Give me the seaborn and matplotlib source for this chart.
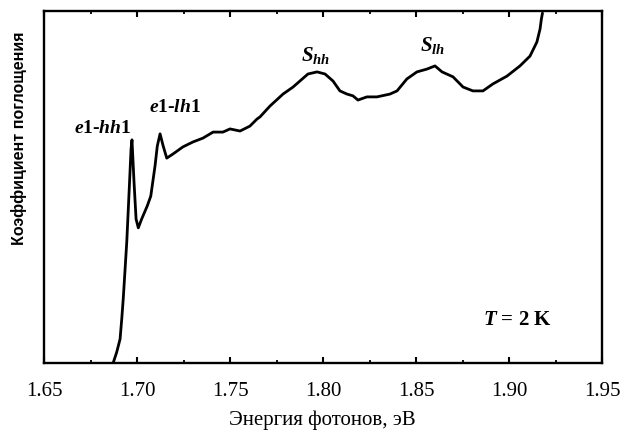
import numpy as np
import pandas as pd
import seaborn as sns
import matplotlib
matplotlib.use("Agg")
import matplotlib.pyplot as plt
from matplotlib.ticker import MultipleLocator

# Absorption spectrum of a quantum-well structure at T = 2 K
energy_ev = [
    1.6873, 1.6891, 1.6909, 1.6918, 1.6926, 1.6945, 1.6959, 1.6968, 1.6973,
    1.6984, 1.6995, 1.7007, 1.7025, 1.7055, 1.7074, 1.7097, 1.7109, 1.7124,
    1.7141, 1.7160, 1.7194, 1.7247, 1.7301, 1.7355, 1.7409, 1.7462, 1.7500,
    1.7554, 1.7607, 1.7645, 1.7661, 1.7715, 1.7785, 1.7839, 1.7919, 1.7968,
    1.8011, 1.8054, 1.8091, 1.8129, 1.8161, 1.8188, 1.8236, 1.8290, 1.8360,
    1.8398, 1.8451, 1.8505, 1.8559, 1.8602, 1.8640, 1.8699, 1.8753, 1.8806,
    1.8860, 1.8914, 1.8989, 1.9059, 1.9113, 1.9150, 1.9167, 1.9174, 1.9180,
]
absorption = [
    0.002, 0.031, 0.068, 0.125, 0.182, 0.344, 0.503, 0.608, 0.634,
    0.514, 0.409, 0.384, 0.409, 0.446, 0.474, 0.560, 0.616, 0.651,
    0.616, 0.582, 0.594, 0.614, 0.628, 0.639, 0.656, 0.656, 0.665,
    0.659, 0.673, 0.693, 0.699, 0.730, 0.764, 0.784, 0.821, 0.827,
    0.821, 0.801, 0.773, 0.764, 0.759, 0.747, 0.756, 0.756, 0.764,
    0.773, 0.807, 0.827, 0.835, 0.844, 0.827, 0.813, 0.784, 0.773,
    0.773, 0.793, 0.815, 0.844, 0.872, 0.912, 0.949, 0.977, 0.994,
]
x_ticks = [1.65, 1.70, 1.75, 1.80, 1.85, 1.90, 1.95]
x_tick_labels = ["1.65", "1.70", "1.75", "1.80", "1.85", "1.90", "1.95"]

df = pd.DataFrame({"E": energy_ev, "alpha": absorption})

sns.set_theme(style="ticks")
plt.rcParams["font.family"] = ["Liberation Serif", "DejaVu Serif"]
plt.rcParams["text.color"] = "black"
plt.rcParams["axes.labelcolor"] = "black"
plt.rcParams["xtick.color"] = "black"
plt.rcParams["mathtext.fontset"] = "custom"
plt.rcParams["mathtext.rm"] = "Liberation Serif:bold"
plt.rcParams["mathtext.it"] = "Liberation Serif:bold:italic"
plt.rcParams["mathtext.bf"] = "Liberation Serif:bold"

fig = plt.figure(figsize=(6.24, 4.31), dpi=100)
ax = fig.add_axes([44 / 624, 1 - 364 / 431, (602 - 44) / 624, (364 - 12) / 431])

sns.lineplot(data=df, x="E", y="alpha", ax=ax, color="black", linewidth=2.0,
             sort=False, estimator=None)

ax.set_xlim(1.65, 1.95)
ax.set_ylim(0, 1.0)
ax.set_xticks(x_ticks)
ax.set_xticklabels(x_tick_labels)
ax.xaxis.set_minor_locator(MultipleLocator(0.025))
ax.set_yticks([])
ax.tick_params(axis="x", which="major", direction="in", length=4, width=1.5,
               top=True, pad=13, labelsize=15, colors="black")
ax.tick_params(axis="x", which="minor", direction="in", length=2, width=1.3,
               top=True)
for s in ax.spines.values():
    s.set_linewidth(1.7)
    s.set_color("black")

ax.set_xlabel("")
ax.set_ylabel("")
fig.text(322 / 624, 1 - 420 / 431, "Энергия фотонов, эВ", ha="center",
         va="center", fontsize=15, color="black", family=["Liberation Serif"])
fig.text(19 / 624, 1 - 138 / 431, "Коэффициент поглощения", ha="center",
         va="center", rotation=90, fontsize=11.5, fontweight="bold",
         color="black", family=["Liberation Sans"])

def label(px, py, s, size):
    fig.text(px / 624, 1 - py / 431, s, ha="center", va="center",
             fontsize=size, fontweight="bold", color="black",
             family=["Liberation Serif"])

label(103, 129, r"$e$1-$hh$1", 14)
label(175, 108, r"$e$1-$lh$1", 14)
label(316, 55, r"$S_{hh}$", 15)
label(433, 46, r"$S_{lh}$", 15)
label(517, 320, r"$T$ = 2 K", 15)

fig.savefig("out.png", dpi=100, facecolor="white")
